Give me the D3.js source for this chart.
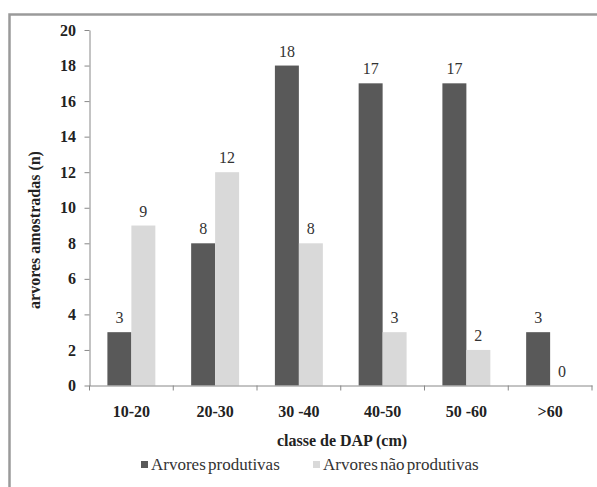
<!DOCTYPE html>
<html><head><meta charset="utf-8">
<script src="https://cdn.jsdelivr.net/npm/d3@7/dist/d3.min.js"></script>
</head><body style="margin:0"><svg id="c" width="597" height="487" style="display:block;background:#fff"></svg>
<script>
const categories = ["10-20","20-30","30 -40","40-50","50 -60",">60"];
const produtivas = [3,8,18,17,17,3];
const naoProdutivas = [9,12,8,3,2,0];
const seriesNames = ["Arvores produtivas","Arvores não produtivas"];
const yTicks = [0,2,4,6,8,10,12,14,16,18,20];

const FF = 'Tinos, "Liberation Serif", "Times New Roman", Times, serif';
const svg = d3.select("#c").attr("font-family",FF);
const colors = ["#595959","#d9d9d9"];

function txt(sel, size, bold){
  sel.attr("font-family",FF).attr("font-size",size).attr("font-weight",bold?"bold":"normal")
     .style("font-family",FF).style("font-size",size+"px").style("font-weight",bold?"bold":"normal");
  return sel;
}

// frame
svg.append("path").attr("d","M9.5,490 L9.5,14.5 L600,14.5").attr("fill","none").attr("stroke","#9a9a9a").attr("stroke-width",2.5);

const x0 = 89.5, x1 = 592, yTop = 30, yBot = 385.5;
const x = d3.scaleBand().domain(categories).range([x0,x1]).paddingInner(0).paddingOuter(0);
const y = d3.scaleLinear().domain([0,20]).range([yBot,yTop]);
const inner = d3.scaleBand().domain([0,1]).range([17.9, x.bandwidth()-17.9]);

const g = svg.append("g");
[produtivas,naoProdutivas].forEach((vals,si)=>{
  g.selectAll(null).data(vals).enter().append("rect")
    .attr("x",(d,i)=>x(categories[i])+inner(si))
    .attr("width",inner.bandwidth())
    .attr("y",d=>y(d))
    .attr("height",d=>y(0)-y(d))
    .attr("fill",colors[si]);
  txt(g.selectAll(null).data(vals).enter().append("text")
    .attr("x",(d,i)=>x(categories[i])+inner(si)+inner.bandwidth()/2)
    .attr("y",d=>y(d)-9)
    .attr("text-anchor","middle").attr("fill","#333")
    .text(d=>d), 16, false);
});

// y axis
const ya = svg.append("g").attr("transform",`translate(${x0},0)`)
  .call(d3.axisLeft(y).tickValues(yTicks).tickSize(5).tickPadding(8.5).tickSizeOuter(0));
ya.attr("font-family",FF);
ya.select(".domain").attr("stroke","#888");
ya.selectAll(".tick line").attr("stroke","#888");
txt(ya.selectAll("text"),16,true).attr("fill","#222");

// x axis
const xa = svg.append("g").attr("transform",`translate(0,${yBot})`)
  .call(d3.axisBottom(x).tickSize(0).tickPadding(20));
xa.attr("font-family",FF);
xa.select(".domain").attr("stroke","#888");
txt(xa.selectAll("text"),16,true).attr("fill","#222");
const bounds = categories.map(c=>x(c)).concat([x1]);
svg.append("g").selectAll("line").data(bounds).enter().append("line")
  .attr("x1",d=>d).attr("x2",d=>d).attr("y1",yBot).attr("y2",yBot+5).attr("stroke","#888");

// axis titles
txt(svg.append("text").attr("x",342).attr("y",446).attr("text-anchor","middle").attr("fill","#222")
  .text("classe de DAP (cm)"),16,true);
txt(svg.append("text").attr("transform","translate(40,230) rotate(-90)").attr("text-anchor","middle").attr("fill","#222")
  .text("arvores amostradas (n)"),16,true);

// legend
const leg = svg.append("g");
const legX = [141, 313];
seriesNames.forEach((n,i)=>{
  leg.append("rect").attr("x",legX[i]).attr("y",461).attr("width",7).attr("height",7).attr("fill",colors[i]);
  txt(leg.append("text").attr("x",legX[i]+10).attr("y",470).attr("fill","#333")
    .style("word-spacing","-2px").text(n),17,false);
});
</script></body></html>
